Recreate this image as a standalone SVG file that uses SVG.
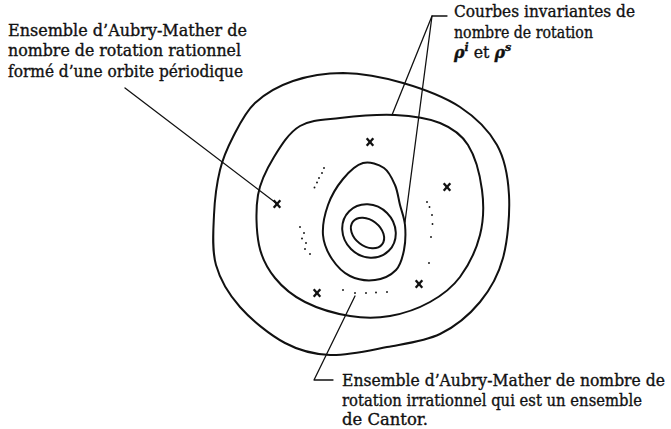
<svg xmlns="http://www.w3.org/2000/svg" width="671" height="429" viewBox="0 0 671 429">
<style>
.t{font-family:"DejaVu Serif","Liberation Serif",serif;font-size:15.8px;fill:#111;stroke:#111;stroke-width:0.35}
.curve{fill:none;stroke:#111;stroke-width:2;stroke-linejoin:round}
.lead{fill:none;stroke:#111;stroke-width:1.3;stroke-linecap:round;stroke-linejoin:round}
.x{stroke:#111;stroke-width:2.3;stroke-linecap:butt}
.dot{fill:#111}
</style>
<defs>
<g id="xm"><line class="x" x1="-3.3" y1="-3.8" x2="3.3" y2="3.8"/><line class="x" x1="3.3" y1="-3.8" x2="-3.3" y2="3.8"/></g>
</defs>
<rect width="671" height="429" fill="#fff"/>

<g id="outer-curve">
<path class="curve" d="M 343,73 C 361.3,73.3 383.5,77.3 403,83 C 422.5,88.7 444.3,96.7 460,107 C 475.7,117.3 488.8,130.3 497,145 C 505.2,159.7 508,176.2 509,195 C 510,213.8 507.8,240.2 503,258 C 498.2,275.8 490.5,289.3 480,302 C 469.5,314.7 455.5,326.5 440,334 C 424.5,341.5 405.3,343.5 387,347 C 368.7,350.5 347,355.7 330,355 C 313,354.3 300,351 285,343 C 270,335 251.5,320 240,307 C 228.5,294 220.3,280.3 216,265 C 211.7,249.7 213.3,230.8 214,215 C 214.7,199.2 216.8,183 220,170 C 223.2,157 227.2,148.2 233,137 C 238.8,125.8 245,112.3 255,103 C 265,93.7 278.3,86 293,81 C 307.7,76 328.3,73 343,73 Z"/>
</g>
<g id="inner-curve">
<path class="curve" d="M 340,118 C 355.8,116.2 378.3,114.2 395,115 C 411.7,115.8 427.8,118 440,123 C 452.2,128 461,133.8 468,145 C 475,156.2 480,175 482,190 C 484,205 483.7,220.5 480,235 C 476.3,249.5 468.3,265.8 460,277 C 451.7,288.2 441.7,295.5 430,302 C 418.3,308.5 403.3,313.7 390,316 C 376.7,318.3 364.2,318.3 350,316 C 335.8,313.7 317.5,308.3 305,302 C 292.5,295.7 282.7,287.5 275,278 C 267.3,268.5 261.8,258.8 259,245 C 256.2,231.2 255.5,209.7 258,195 C 260.5,180.3 267,168.5 274,157 C 281,145.5 289,132.5 300,126 C 311,119.5 324.2,119.8 340,118 Z"/>
</g>
<g id="teardrop">
<path class="curve" d="M 363,163 C 369.8,161.2 378.7,164.3 384,168 C 389.3,171.7 392.3,178.8 395,185 C 397.7,191.2 398.3,198.3 400,205 C 401.7,211.7 404.3,217.5 405,225 C 405.7,232.5 405.5,242.5 404,250 C 402.5,257.5 400.8,265 396,270 C 391.2,275 382.7,279 375,280 C 367.3,281 357.2,279.5 350,276 C 342.8,272.5 336.5,265.8 332,259 C 327.5,252.2 323.7,244 323,235 C 322.3,226 324.7,214.3 328,205 C 331.3,195.7 337.2,186 343,179 C 348.8,172 356.2,164.8 363,163 Z"/>
</g>
<g id="ring-middle">
<ellipse class="curve" cx="369" cy="231" rx="28" ry="25.5" transform="rotate(45 369 231)"/>
</g>
<g id="ring-inner">
<ellipse class="curve" cx="367.5" cy="233" rx="18.5" ry="13" transform="rotate(38 367.5 233)"/>
</g>

<g id="periodic-orbit">
<use href="#xm" x="370" y="142"/>
<use href="#xm" x="277" y="204"/>
<use href="#xm" x="447" y="187"/>
<use href="#xm" x="317" y="293"/>
<use href="#xm" x="419" y="284"/>
</g>

<g id="cantor-set">
<circle class="dot" cx="324" cy="168" r="0.95"/>
<circle class="dot" cx="322" cy="173" r="0.95"/>
<circle class="dot" cx="319" cy="178" r="0.95"/>
<circle class="dot" cx="317" cy="182.5" r="0.95"/>
<circle class="dot" cx="314.5" cy="187.5" r="0.95"/>
<circle class="dot" cx="300" cy="227" r="0.95"/>
<circle class="dot" cx="304" cy="233" r="0.95"/>
<circle class="dot" cx="302" cy="238.5" r="0.95"/>
<circle class="dot" cx="306" cy="243" r="0.95"/>
<circle class="dot" cx="305" cy="249" r="0.95"/>
<circle class="dot" cx="310" cy="254" r="0.95"/>
<circle class="dot" cx="427" cy="202" r="0.95"/>
<circle class="dot" cx="429.5" cy="207" r="0.95"/>
<circle class="dot" cx="432" cy="215" r="0.95"/>
<circle class="dot" cx="432.5" cy="224" r="0.95"/>
<circle class="dot" cx="431" cy="237" r="0.95"/>
<circle class="dot" cx="429" cy="263" r="0.95"/>
<circle class="dot" cx="343" cy="290" r="0.95"/>
<circle class="dot" cx="355" cy="293" r="0.95"/>
<circle class="dot" cx="366" cy="293" r="0.95"/>
<circle class="dot" cx="376" cy="292.5" r="0.95"/>
<circle class="dot" cx="387" cy="292" r="0.95"/>
</g>

<g id="connectors">
<path class="lead" d="M 125,88 L 276,203"/>
<path class="lead" d="M 447,16 L 432,16 L 392,115"/>
<path class="lead" d="M 432,16 L 405,222"/>
<path class="lead" d="M 355,296 L 314,380 L 333,380"/>
</g>

<g id="label-rational">
<text class="t" x="8" y="36" textLength="239" lengthAdjust="spacingAndGlyphs">Ensemble d’Aubry-Mather de</text>
<text class="t" x="8" y="56" textLength="233" lengthAdjust="spacingAndGlyphs">nombre de rotation rationnel</text>
<text class="t" x="8" y="77" textLength="235" lengthAdjust="spacingAndGlyphs">formé d’une orbite périodique</text>
</g>
<g id="label-invariant">
<text class="t" x="454" y="17" textLength="181" lengthAdjust="spacingAndGlyphs">Courbes invariantes de</text>
<text class="t" x="454" y="38" textLength="139" lengthAdjust="spacingAndGlyphs">nombre de rotation</text>
<text class="t" x="454" y="58"><tspan font-style="italic" font-weight="bold">ρ</tspan><tspan font-size="11" dy="-7" font-style="italic" font-weight="bold">i</tspan><tspan dy="7"> et </tspan><tspan font-style="italic" font-weight="bold">ρ</tspan><tspan font-size="11" dy="-7" font-style="italic" font-weight="bold">s</tspan></text>
</g>
<g id="label-irrational">
<text class="t" x="342" y="386" textLength="323" lengthAdjust="spacingAndGlyphs">Ensemble d’Aubry-Mather de nombre de</text>
<text class="t" x="342" y="406" textLength="300" lengthAdjust="spacingAndGlyphs">rotation irrationnel qui est un ensemble</text>
<text class="t" x="342" y="425" textLength="86" lengthAdjust="spacingAndGlyphs">de Cantor.</text>
</g>
</svg>
